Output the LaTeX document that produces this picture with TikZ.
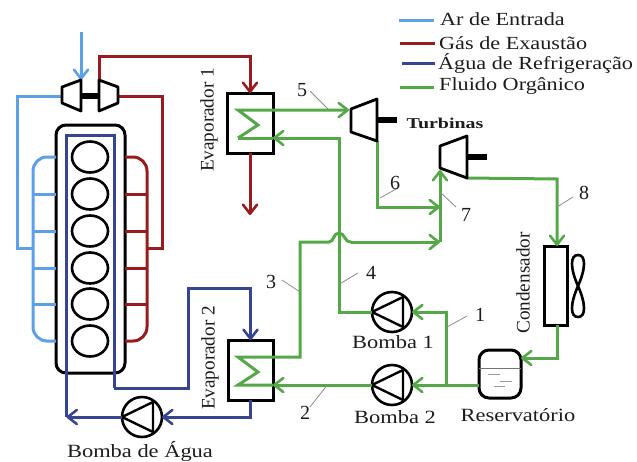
\documentclass[tikz,border=0pt]{standalone}
\usepackage{fontspec}
\setmainfont{Liberation Serif}
\newfontfamily\widefont[FakeStretch=1.2]{Liberation Serif}
\newfontfamily\turbfont[FakeStretch=1.33]{Liberation Serif}
\usetikzlibrary{arrows.meta,shapes.geometric,calc}
\definecolor{ar}{HTML}{5CA0E8}
\definecolor{gas}{HTML}{981B1E}
\definecolor{agua}{HTML}{36458F}
\definecolor{org}{HTML}{55A848}
\definecolor{txt}{HTML}{1C1C1C}
\tikzset{
  barb/.tip={Straight Barb[length=9pt,width=14pt,line width=2.6pt,round]},
  flow/.style={line width=3pt,line join=miter},
  arline/.style={flow,draw=ar},
  gasline/.style={flow,draw=gas},
  agualine/.style={flow,draw=agua},
  orgline/.style={flow,draw=org},
  blk/.style={draw=black,line width=2.8pt,line join=round},
  boxnode/.style={draw=black,line width=3pt,fill=none,inner sep=0pt,outer sep=0pt},
  pumpnode/.style={circle,draw=black,line width=2.6pt,minimum size=40pt,inner sep=0pt,outer sep=0pt,fill=white},
  cyl/.style={ellipse,draw=black,line width=2.6pt,minimum width=36pt,minimum height=31pt,inner sep=0pt,outer sep=0pt},
  lbl/.style={text=txt,font=\widefont\fontsize{18.7}{18.7}\selectfont,inner sep=0pt},
  rlbl/.style={text=txt,font=\fontsize{19.2}{19.2}\selectfont,inner sep=0pt,rotate=90},
  legend/.style={text=txt,font=\widefont\fontsize{18.5}{18.5}\selectfont,inner sep=0pt,anchor=west},
  num/.style={text=txt,font=\fontsize{20}{20}\selectfont,inner sep=0pt},
  leader/.style={draw=black!45,line width=0.8pt},
  shaft/.style={draw=black,line width=6pt},
}
\begin{document}
\begin{tikzpicture}[x=1pt,y=-1pt]
\useasboundingbox (0,0) rectangle (637,461);
% --- named places
\coordinate (airin) at (81,32);
\coordinate (compL) at (62,96);
\coordinate (compT) at (81,80);
\coordinate (turbT) at (99,80);
\coordinate (turbR) at (118,96);
\coordinate (armanL) at (33,0);
\coordinate (gasmanR) at (147,0);
\coordinate (t1in) at (349,110);
\coordinate (t1out) at (377,141);
\coordinate (t2in) at (440,170);
\coordinate (t2out) at (467,178);
% --- engine
\node[boxnode,rounded corners=10pt,minimum width=69pt,minimum height=248pt] (engine) at (90.5,249) {};
\foreach \n/\y in {1/157,2/194,3/231,4/268,5/304,6/341}
  \node[cyl] (c\n) at (90,\y) {};
% --- components
\node[boxnode,minimum width=46pt,minimum height=60pt] (ev1) at (250,123) {};
\node[boxnode,minimum width=45pt,minimum height=60pt] (ev2) at (250.5,370) {};
\node[boxnode,minimum width=23pt,minimum height=79pt] (cond) at (555.5,285.5) {};
\node[boxnode,rounded corners=10pt,minimum width=42pt,minimum height=48pt] (res) at (500,374) {};
\node[pumpnode] (pa) at (392,312) {};
\node[pumpnode] (pb) at (392,385) {};
\node[pumpnode] (pw) at (142,417) {};
\foreach \p in {pa,pb,pw}
  \draw[draw=black,line width=2.4pt,line join=round] ([shift={(-20,0)}]\p.center) -- ([shift={(11,-15)}]\p.center) -- ([shift={(11,15)}]\p.center) -- cycle;
% --- air
\draw[arline,-{barb}] (airin) -- (compT);
\draw[arline] (compL) -- (17,96) -- (17,248) -- (armanL |- 0,248);
\draw[arline,rounded corners=14pt] (engine.west |- c1) -- (armanL |- c1) -- (armanL |- c6) -- (engine.west |- c6);
\foreach \n in {2,3,4,5} \draw[arline] (armanL |- c\n) -- (engine.west |- c\n);
% --- exhaust
\draw[gasline,-{barb}] (turbT) -- (99,56) -- (ev1.north |- 0,56) -- (ev1.north);
\draw[gasline,-{barb}] (ev1.south) -- (250,215);
\draw[gasline] (turbR) -- (162,96) -- (162,248) -- (gasmanR |- 0,248);
\draw[gasline,rounded corners=14pt] (engine.east |- c1) -- (gasmanR |- c1) -- (gasmanR |- c6) -- (engine.east |- c6);
\foreach \n in {2,3,4,5} \draw[gasline] (gasmanR |- c\n) -- (engine.east |- c\n);
% --- cooling water
\draw[agualine] (66.5,417) -- (66.5,135) -- (114,135) -- (114,388);
\draw[agualine,-{barb}] (114,388) -- (188,388) -- (188,288) -- (ev2.north |- 0,288) -- (ev2.north);
\draw[agualine,-{barb}] (ev2.south) -- (ev2.south |- pw.east) -- (pw.east);
\draw[agualine,-{barb}] (pw.west) -- (66.5,417);
% --- organic fluid
\draw[orgline,-{barb}] (238,138) -- (258,125) -- (238,110) -- (t1in);
\draw[orgline,-{barb}] (pa.west) -- (339,312) -- (339,138) -- (ev1.east |- 0,138);
\draw[orgline] (ev1.east |- 0,138) -- (238,138);
\draw[orgline,-{barb}] (res.west |- pb) -- (pb.east);
\draw[orgline,-{barb}] (446,385) -- (446,312) -- (pa.east);
\draw[orgline,-{barb}] (pb.west) -- (ev2.east |- pb);
\draw[orgline] (ev2.east |- pb) -- (238,385) -- (258,372) -- (238,357) -- (300,357) -- (300,242) -- (329,242)
   .. controls (334,242) and (333,233) .. (339,233) .. controls (345,233) and (344,242) .. (351,242);
\draw[orgline,-{barb}] (351,242) -- (t2in |- 0,242);
\draw[orgline,-{barb}] (t2in |- 0,242) -- (t2in);
\draw[orgline,-{barb}] (t1out) -- (377,207) -- (t2in |- 0,207);
\draw[orgline,-{barb}] (t2out) -- (557,179) -- (557,246);
\draw[orgline,-{barb}] (557,325) -- (557,358) -- (res.east |- 0,358);
% --- turbocharger and turbines
\draw[shaft] (81,96) -- (99,96);
\draw[blk,fill=white] (62,87) -- (compT) -- (81,111) -- (62,103) -- cycle;
\draw[blk,fill=white] (turbT) -- (118,87) -- (118,103) -- (99,111) -- cycle;
\draw[blk,fill=white] (351,109) -- (377,99) -- (t1out) -- (351,132) -- cycle;
\draw[blk,fill=white] (440,146) -- (467,136) -- (t2out) -- (440,168) -- cycle;
\draw[shaft] (377,120) -- (397,120);
\draw[shaft] (467,157) -- (487,157);
% --- reservoir interior and fan
\draw[draw=black!55,line width=0.9pt] (res.west |- 0,368) -- (res.east |- 0,368);
\draw[draw=black!40,line width=1pt] (488,374) -- (500,374) (500,381) -- (512,381) (494,386) -- (505,386);
\draw[draw=black,line width=2.6pt] (578,286) .. controls (570,268) and (570,255) .. (578,255) .. controls (586,255) and (586,268) .. (578,286)
  .. controls (570,304) and (570,317) .. (578,317) .. controls (586,317) and (586,304) .. (578,286);
% --- leaders
\draw[leader] (310,91) -- (328,109);
\draw[leader] (380,198) -- (398,188);
\draw[leader] (440,192) -- (456,207);
\draw[leader] (282,280) -- (300,292);
\draw[leader] (338,285) -- (358,273);
\draw[leader] (447,327) -- (467,316);
\draw[leader] (310,407) -- (328,384);
\draw[leader] (557,207) -- (573,197);
% --- numbers
\node[num] (n5) at (302,90) {5};
\node[num] (n6) at (395,183) {6};
\node[num] (n7) at (466,215) {7};
\node[num] (n3) at (271,282) {3};
\node[num] (n4) at (371,273) {4};
\node[num] (n1) at (480,315) {1};
\node[num] (n2) at (305,413) {2};
\node[num] (n8) at (584,193) {8};
% --- labels
\node[rlbl] (l1) at (209,120) {Evaporador 1};
\node[rlbl] (l2) at (210,358) {Evaporador 2};
\node[rlbl] (l3) at (523,283) {Condensador};
\node[text=txt,inner sep=0pt,font=\turbfont\fontsize{15}{15}\selectfont\bfseries] (l4) at (445,123) {Turbinas};
\node[lbl] (l5) at (393,342) {Bomba 1};
\node[lbl] (l6) at (395,417) {Bomba 2};
\node[lbl] (l7) at (518,415) {Reservatório};
\node[lbl] (l8) at (140,451) {Bomba de Água};
% --- legend
\coordinate (k1a) at (399,20); \coordinate (k1b) at (434,20);
\coordinate (k2a) at (400,43); \coordinate (k2b) at (435,43);
\coordinate (k3a) at (402,63); \coordinate (k3b) at (435,63);
\coordinate (k4a) at (400,87); \coordinate (k4b) at (434,87);
\draw[arline] (k1a) -- (k1b);
\draw[gasline] (k2a) -- (k2b);
\draw[agualine] (k3a) -- (k3b);
\draw[orgline] (k4a) -- (k4b);
\node[legend] (t1) at (440,19.5) {Ar de Entrada};
\node[legend] (t2) at (439,43.5) {Gás de Exaustão};
\node[legend] (t3) at (438,64) {Água de Refrigeração};
\node[legend] (t4) at (439,86.5) {Fluido Orgânico};
\end{tikzpicture}
\end{document}
